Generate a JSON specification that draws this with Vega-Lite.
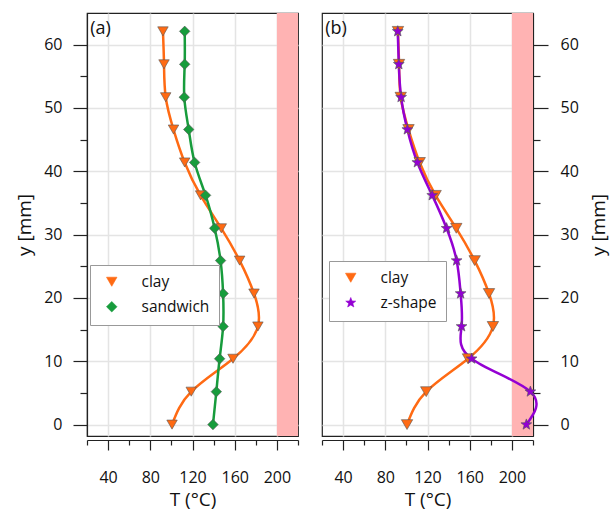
{
  "$schema": "https://vega.github.io/schema/vega-lite/v6.json",
  "padding": {"left": 15, "top": 12, "right": 5, "bottom": 5},
  "background": "white",
  "config": {
    "font": "Open Sans",
    "view": {"stroke": "#222", "strokeWidth": 1.2},
    "axis": {"labelFont": "Open Sans", "titleFont": "Open Sans", "labelFontSize": 16, "titleFontSize": 19, "titleFontWeight": "normal", "labelColor": "#111", "titleColor": "#111", "domainColor": "#222", "tickColor": "#222", "gridColor": "#e4e4e4", "gridWidth": 1.5, "domainWidth": 1.2, "tickWidth": 1.2},
    "legend": {"labelFont": "Open Sans", "labelFontSize": 15.5, "labelColor": "#111"},
    "concat": {"spacing": 20}
  },
  "datasets": {
    "profiles": [
      {"series": "clay", "depth": 0, "T": 100.6},
      {"series": "clay", "depth": 5.2, "T": 118.8},
      {"series": "clay", "depth": 10.4, "T": 158.4},
      {"series": "clay", "depth": 15.5, "T": 182},
      {"series": "clay", "depth": 20.7, "T": 178.3},
      {"series": "clay", "depth": 25.9, "T": 164.7},
      {"series": "clay", "depth": 31.0, "T": 147.3},
      {"series": "clay", "depth": 36.2, "T": 127.7},
      {"series": "clay", "depth": 41.4, "T": 112.6},
      {"series": "clay", "depth": 46.6, "T": 102},
      {"series": "clay", "depth": 51.7, "T": 94.6},
      {"series": "clay", "depth": 56.9, "T": 93},
      {"series": "clay", "depth": 62.1, "T": 92},
      {"series": "sandwich", "depth": 0, "T": 139.4},
      {"series": "sandwich", "depth": 5.2, "T": 142.6},
      {"series": "sandwich", "depth": 10.4, "T": 145.7},
      {"series": "sandwich", "depth": 15.5, "T": 149},
      {"series": "sandwich", "depth": 20.7, "T": 149},
      {"series": "sandwich", "depth": 25.9, "T": 146.6},
      {"series": "sandwich", "depth": 31.0, "T": 141},
      {"series": "sandwich", "depth": 36.2, "T": 132.4},
      {"series": "sandwich", "depth": 41.4, "T": 122},
      {"series": "sandwich", "depth": 46.6, "T": 116.4},
      {"series": "sandwich", "depth": 51.7, "T": 112.2},
      {"series": "sandwich", "depth": 56.9, "T": 112.6},
      {"series": "sandwich", "depth": 62.1, "T": 112.6},
      {"series": "z-shape", "depth": 0, "T": 213.7},
      {"series": "z-shape", "depth": 5.2, "T": 217.5},
      {"series": "z-shape", "depth": 10.4, "T": 161.8},
      {"series": "z-shape", "depth": 15.5, "T": 152.3},
      {"series": "z-shape", "depth": 20.7, "T": 151.4},
      {"series": "z-shape", "depth": 25.9, "T": 147.6},
      {"series": "z-shape", "depth": 31.0, "T": 138.1},
      {"series": "z-shape", "depth": 36.2, "T": 124.5},
      {"series": "z-shape", "depth": 41.4, "T": 110.4},
      {"series": "z-shape", "depth": 46.6, "T": 100.9},
      {"series": "z-shape", "depth": 51.7, "T": 95},
      {"series": "z-shape", "depth": 56.9, "T": 92.8},
      {"series": "z-shape", "depth": 62.1, "T": 91.8}
    ],
    "band": [{"lo": 200, "hi": 220, "dlo": -1.8, "dhi": 65}],
    "tagA": [{"tag": "(a)", "tx": 23, "ty": 62.5}],
    "tagB": [{"tag": "(b)", "tx": 23, "ty": 62.5}]
  },
  "hconcat": [
    {
      "width": 211,
      "height": 423,
      "layer": [
        {
          "data": {"name": "band"},
          "mark": {"type": "rect", "color": "#ffb3b3"},
          "encoding": {
            "x": {"field": "lo", "type": "quantitative", "scale": {"domain": [20, 220], "nice": false, "zero": false}, "axis": null},
            "x2": {"field": "hi"},
            "y": {"field": "dlo", "type": "quantitative", "scale": {"domain": [-1.8, 65], "nice": false, "zero": false}, "axis": null},
            "y2": {"field": "dhi"}
          }
        },
        {
          "data": {"name": "profiles"},
          "transform": [{"filter": {"field": "series", "oneOf": ["clay", "sandwich"]}}],
          "mark": {"type": "line", "interpolate": "natural", "strokeWidth": 2.5},
          "encoding": {
            "x": {"field": "T", "type": "quantitative", "axis": {"orient": "bottom", "values": [40, 80, 120, 160, 200], "tickSize": 10, "labelPadding": 19, "title": "T (°C)", "titlePadding": 5, "offset": 4, "grid": true}},
            "y": {"field": "depth", "type": "quantitative", "axis": {"orient": "left", "values": [0, 10, 20, 30, 40, 50, 60], "tickSize": 14, "labelPadding": 11, "title": "y [mm]", "titlePadding": 9, "grid": true}},
            "color": {"field": "series", "type": "nominal", "scale": {"domain": ["clay", "sandwich"], "range": ["#ff6a13", "#179c3c"]},
              "legend": {"orient": "none", "legendX": 3, "legendY": 252, "title": null, "fillColor": "white", "strokeColor": "#999", "padding": 9, "symbolOffset": 5, "labelOffset": 22, "rowPadding": 8, "symbolSize": 110, "symbolStrokeWidth": 0.6}},
            "order": {"field": "depth", "type": "quantitative"}
          }
        },
        {
          "data": {"name": "profiles"},
          "transform": [{"filter": {"field": "series", "oneOf": ["clay", "sandwich"]}}],
          "mark": {"type": "point", "filled": true, "size": 110, "stroke": "#555", "strokeWidth": 0.6, "opacity": 1},
          "encoding": {
            "x": {"field": "T", "type": "quantitative", "axis": {"orient": "bottom", "values": [20, 60, 100, 140, 180, 220], "tickSize": 5, "labels": false, "title": null, "grid": false, "domain": false, "offset": 4}},
            "y": {"field": "depth", "type": "quantitative", "axis": {"orient": "left", "values": [5, 15, 25, 35, 45, 55], "tickSize": 7, "labels": false, "title": null, "grid": false, "domain": false}},
            "color": {"field": "series", "type": "nominal", "legend": null},
            "shape": {"field": "series", "type": "nominal", "scale": {"domain": ["clay", "sandwich"], "range": ["triangle-down", "diamond"]}, "legend": null}
          }
        },
        {
          "data": {"name": "tagA"},
          "mark": {"type": "text", "align": "left", "baseline": "middle", "fontSize": 18, "font": "Open Sans", "color": "#111"},
          "encoding": {
            "x": {"field": "tx", "type": "quantitative", "axis": null},
            "y": {"field": "ty", "type": "quantitative", "axis": null},
            "text": {"field": "tag"}
          }
        }
      ],
      "resolve": {"axis": {"x": "independent", "y": "independent"}}
    },
    {
      "width": 211,
      "height": 423,
      "layer": [
        {
          "data": {"name": "band"},
          "mark": {"type": "rect", "color": "#ffb3b3"},
          "encoding": {
            "x": {"field": "lo", "type": "quantitative", "scale": {"domain": [20, 220], "nice": false, "zero": false}, "axis": null},
            "x2": {"field": "hi"},
            "y": {"field": "dlo", "type": "quantitative", "scale": {"domain": [-1.8, 65], "nice": false, "zero": false}, "axis": null},
            "y2": {"field": "dhi"}
          }
        },
        {
          "data": {"name": "profiles"},
          "transform": [{"filter": {"field": "series", "oneOf": ["clay", "z-shape"]}}],
          "mark": {"type": "line", "interpolate": "natural", "strokeWidth": 2.5},
          "encoding": {
            "x": {"field": "T", "type": "quantitative", "axis": {"orient": "bottom", "values": [40, 80, 120, 160, 200], "tickSize": 10, "labelPadding": 19, "title": "T (°C)", "titlePadding": 5, "offset": 4, "grid": true}},
            "y": {"field": "depth", "type": "quantitative", "axis": {"orient": "right", "values": [0, 10, 20, 30, 40, 50, 60], "tickSize": 15, "labelPadding": 12, "title": "y [mm]", "titleAngle": 270, "titlePadding": 30, "grid": true}},
            "color": {"field": "series", "type": "nominal", "scale": {"domain": ["clay", "z-shape"], "range": ["#ff6a13", "#9400d3"]},
              "legend": {"orient": "none", "legendX": 7, "legendY": 248, "title": null, "fillColor": "white", "strokeColor": "#999", "padding": 9, "symbolOffset": 5, "labelOffset": 22, "rowPadding": 8, "symbolSize": 110, "symbolStrokeWidth": 0.6}},
            "order": {"field": "depth", "type": "quantitative"}
          }
        },
        {
          "data": {"name": "profiles"},
          "transform": [{"filter": {"field": "series", "oneOf": ["clay", "z-shape"]}}],
          "mark": {"type": "point", "filled": true, "size": 130, "stroke": "#555", "strokeWidth": 0.6, "opacity": 1},
          "encoding": {
            "x": {"field": "T", "type": "quantitative", "axis": {"orient": "bottom", "values": [20, 60, 100, 140, 180, 220], "tickSize": 5, "labels": false, "title": null, "grid": false, "domain": false, "offset": 4}},
            "y": {"field": "depth", "type": "quantitative", "axis": {"orient": "right", "values": [5, 15, 25, 35, 45, 55], "tickSize": 7, "labels": false, "title": null, "grid": false, "domain": false}},
            "color": {"field": "series", "type": "nominal", "legend": null},
            "shape": {"field": "series", "type": "nominal", "scale": {"domain": ["clay", "z-shape"], "range": ["triangle-down", "M0,-1L0.247,-0.34L0.951,-0.309L0.399,0.13L0.588,0.809L0,0.42L-0.588,0.809L-0.399,0.13L-0.951,-0.309L-0.247,-0.34Z"]}, "legend": null}
          }
        },
        {
          "data": {"name": "tagB"},
          "mark": {"type": "text", "align": "left", "baseline": "middle", "fontSize": 18, "font": "Open Sans", "color": "#111"},
          "encoding": {
            "x": {"field": "tx", "type": "quantitative", "axis": null},
            "y": {"field": "ty", "type": "quantitative", "axis": null},
            "text": {"field": "tag"}
          }
        }
      ],
      "resolve": {"axis": {"x": "independent", "y": "independent"}}
    }
  ],
  "resolve": {"scale": {"color": "independent", "shape": "independent"}, "legend": {"color": "independent", "shape": "independent"}}
}
